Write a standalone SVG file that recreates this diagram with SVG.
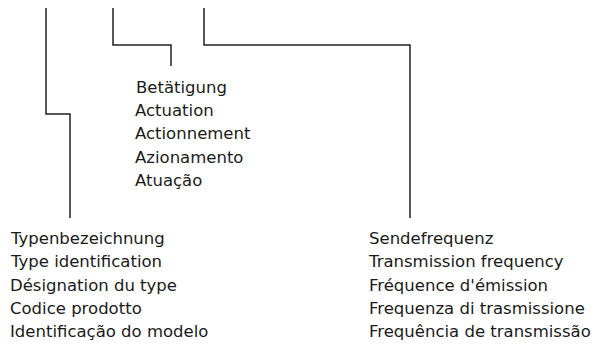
<svg xmlns="http://www.w3.org/2000/svg" width="598" height="347" viewBox="0 0 598 347">
<style>
.c{fill:none;stroke:#222;stroke-width:1.5}
text{font-family:"DejaVu Sans","Liberation Sans",sans-serif;font-size:16.5px;fill:#1a1a1a}
</style>
<rect width="598" height="347" fill="#fff"/>
<g id="connectors">
<path class="c" d="M46 8V114H70V218"/>
<path class="c" d="M113 8V45H171V66"/>
<path class="c" d="M204 8V45H410V218"/>
</g>
<g id="node-type">
<text x="11" y="244">Typenbezeichnung</text>
<text x="11" y="267.3">Type identification</text>
<text x="10" y="290.6">Désignation du type</text>
<text x="10" y="313.9">Codice prodotto</text>
<text x="10" y="337.2">Identificação do modelo</text>
</g>
<g id="node-actuation">
<text x="136" y="92.8">Betätigung</text>
<text x="135" y="116.1">Actuation</text>
<text x="135" y="139.4">Actionnement</text>
<text x="135" y="162.7">Azionamento</text>
<text x="135" y="186">Atuação</text>
</g>
<g id="node-frequency">
<text x="369" y="244">Sendefrequenz</text>
<text x="369" y="267.3">Transmission frequency</text>
<text x="369" y="290.6">Fréquence d'émission</text>
<text x="369" y="313.9">Frequenza di trasmissione</text>
<text x="369" y="337.2">Frequência de transmissão</text>
</g>
</svg>
